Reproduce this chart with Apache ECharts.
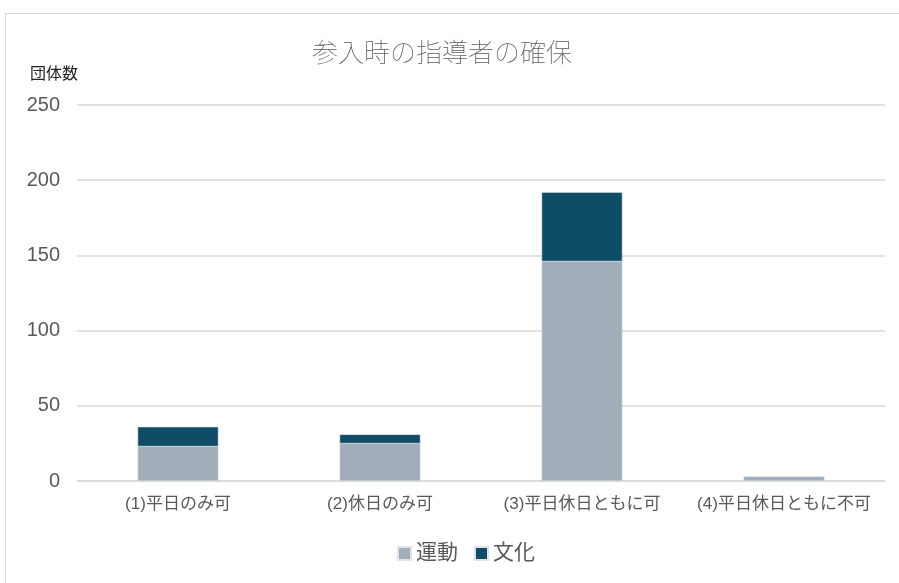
<!DOCTYPE html>
<html>
<head>
<meta charset="utf-8">
<script src="https://cdn.jsdelivr.net/npm/echarts@6/dist/echarts.min.js"></script>
<style>
html, body { margin: 0; padding: 0; background: #fff; }
#frame { position: absolute; left: 5px; top: 13px; width: 900px; height: 580px; border: 1px solid #d9d9d9; box-sizing: border-box; }
#main { position: absolute; left: 0; top: 0; width: 899px; height: 583px; }
</style>
</head>
<body>
<div id="frame"></div>
<div id="main"></div>
<script>
var categories = ['(1)平日のみ可', '(2)休日のみ可', '(3)平日休日ともに可', '(4)平日休日ともに不可'];
var undou = [23, 25, 146, 3];
var bunka = [13, 6, 46, 0];
var yTicks = [0, 50, 100, 150, 200, 250];

var myChart = echarts.init(document.getElementById('main'));
var font = '"Liberation Sans", "Noto Sans CJK JP", sans-serif';

var option = {
    animation: false,
    textStyle: { fontFamily: font },
    title: {
        text: '参入時の指導者の確保',
        left: 437,
        textAlign: 'center',
        top: 37,
        textStyle: { fontSize: 26, fontWeight: 'lighter', color: '#595959', fontFamily: font }
    },
    legend: {
        bottom: 14,
        left: 392,
        itemWidth: 13,
        itemHeight: 13,
        itemGap: 16,
        icon: 'rect',
        textStyle: { fontSize: 21, color: '#595959', fontFamily: font },
        data: ['運動', '文化']
    },
    grid: { left: 77, right: 14, top: 105, bottom: 102 },
    xAxis: {
        type: 'category',
        data: categories,
        axisTick: { show: false },
        axisLine: { lineStyle: { color: '#d9d9d9', width: 1.5 } },
        axisLabel: { interval: 0, fontSize: 17, color: '#595959', margin: 15, fontFamily: font }
    },
    yAxis: {
        type: 'value',
        name: '団体数',
        nameLocation: 'end',
        nameGap: 22,
        nameTextStyle: { fontSize: 16, color: '#222', align: 'left', padding: [0, 0, 0, -47] },
        min: yTicks[0],
        max: yTicks[yTicks.length - 1],
        interval: 50,
        axisLine: { show: false },
        axisTick: { show: false },
        axisLabel: { fontSize: 20, color: '#595959', margin: 17, fontFamily: font, align: 'right' },
        splitLine: { lineStyle: { color: '#d9d9d9', width: 1.5 } }
    },
    series: [
        {
            name: '運動',
            type: 'bar',
            stack: 'total',
            barWidth: '40%',
            itemStyle: { color: '#a1adb8', borderColor: '#dde3e8', borderWidth: 0.5 },
            data: undou
        },
        {
            name: '文化',
            type: 'bar',
            stack: 'total',
            barWidth: '40%',
            itemStyle: { color: '#0f4c66', borderColor: '#dde3e8', borderWidth: 0.5 },
            data: bunka
        }
    ]
};
myChart.setOption(option);
window.addEventListener('resize', function () {
    myChart.resize();
});
</script>
</body>
</html>
